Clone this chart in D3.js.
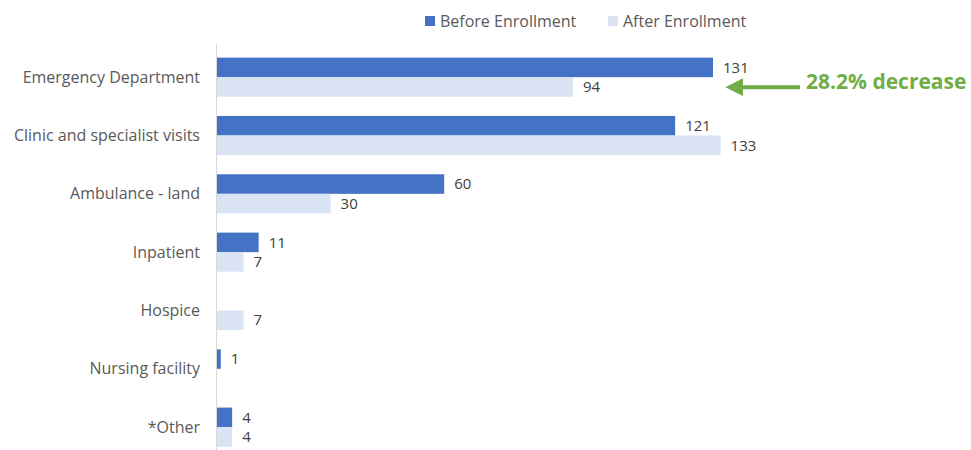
<!DOCTYPE html>
<html lang="en">
  <head>
    <meta charset="UTF-8" />
    <title>Utilization before and after enrollment</title>
    <script src="https://cdn.jsdelivr.net/npm/d3@7"></script>
    <style>
      body { margin: 0; background: #fff; }
      text { font-family: "Open Sans", Lato, sans-serif; }
    </style>
  </head>
  <body>
    <div class="chart"></div>
    <script>
      const categories = [
        "Emergency Department",
        "Clinic and specialist visits",
        "Ambulance - land",
        "Inpatient",
        "Hospice",
        "Nursing facility",
        "*Other",
      ];
      const seriesNames = ["Before Enrollment", "After Enrollment"];
      const beforeValues = [131, 121, 60, 11, 0, 1, 4];
      const afterValues = [94, 133, 30, 7, 7, null, 4];
      const calloutText = "28.2% decrease";

      const width = 971;
      const height = 450;
      const colors = ["#4472C4", "#DAE3F3"];

      const svg = d3
        .select(".chart")
        .append("svg")
        .attr("width", width)
        .attr("height", height);

      const x = d3.scaleLinear().domain([0, 131]).range([217, 713]);
      const y = d3
        .scaleBand()
        .domain(categories)
        .range([48, 456.3])
        .paddingInner(0.33)
        .paddingOuter(0.165);
      const sub = d3
        .scaleBand()
        .domain(seriesNames)
        .range([0, y.bandwidth()]);

      // axis line
      svg
        .append("line")
        .attr("x1", x(0) - 0.5)
        .attr("x2", x(0) - 0.5)
        .attr("y1", 44)
        .attr("y2", height)
        .attr("stroke", "#d9d9d9")
        .attr("stroke-width", 1);

      // category labels
      svg
        .append("g")
        .selectAll("text")
        .data(categories)
        .enter()
        .append("text")
        .attr("x", 200)
        .attr("y", (d) => y(d) + y.bandwidth() / 2)
        .attr("dy", "0.35em")
        .attr("text-anchor", "end")
        .attr("fill", "#595959")
        .style("font-size", "16px")
        .text((d) => d);

      const rows = [];
      categories.forEach((c, i) => {
        rows.push({ cat: c, s: 0, v: beforeValues[i] });
        rows.push({ cat: c, s: 1, v: afterValues[i] });
      });
      const shown = rows.filter((d) => d.v !== null && d.v > 0);

      svg
        .append("g")
        .selectAll("rect")
        .data(shown)
        .enter()
        .append("rect")
        .attr("x", x(0))
        .attr("y", (d) => y(d.cat) + sub(seriesNames[d.s]))
        .attr("width", (d) => Math.max(x(d.v) - x(0), 3))
        .attr("height", sub.bandwidth())
        .attr("fill", (d) => colors[d.s]);

      svg
        .append("g")
        .selectAll("text")
        .data(shown)
        .enter()
        .append("text")
        .attr("x", (d) => Math.max(x(d.v), x(0) + 3) + 10)
        .attr("y", (d) => y(d.cat) + sub(seriesNames[d.s]) + sub.bandwidth() / 2)
        .attr("dy", "0.35em")
        .attr("fill", "#404040")
        .style("font-size", "15px")
        .text((d) => d.v);

      // legend
      const legend = svg.append("g");
      const legendX = [425, 608];
      seriesNames.forEach((name, i) => {
        legend
          .append("rect")
          .attr("x", legendX[i])
          .attr("y", 16)
          .attr("width", 10)
          .attr("height", 10)
          .attr("fill", colors[i]);
        legend
          .append("text")
          .attr("x", legendX[i] + 15)
          .attr("y", 21)
          .attr("dy", "0.35em")
          .attr("fill", "#595959")
          .style("font-size", "16px")
          .text(name);
      });

      // callout arrow
      const arrowY = y(categories[0]) + sub.bandwidth();
      svg
        .append("defs")
        .append("marker")
        .attr("id", "head")
        .attr("viewBox", "0 0 10 10")
        .attr("refX", 3)
        .attr("refY", 5)
        .attr("markerWidth", 4.5)
        .attr("markerHeight", 4.5)
        .attr("orient", "auto")
        .append("path")
        .attr("d", "M0,0 L10,5 L0,10 Z")
        .attr("fill", "#70AD47");
      svg
        .append("line")
        .attr("x1", 800)
        .attr("x2", 738)
        .attr("y1", arrowY + 10)
        .attr("y2", arrowY + 10)
        .attr("stroke", "#70AD47")
        .attr("stroke-width", 4)
        .attr("marker-end", "url(#head)");
      svg
        .append("text")
        .attr("x", 806)
        .attr("y", arrowY + 4)
        .attr("dy", "0.35em")
        .attr("fill", "#70AD47")
        .style("font-size", "21px")
        .style("font-weight", "bold")
        .text(calloutText);
    </script>
  </body>
</html>
